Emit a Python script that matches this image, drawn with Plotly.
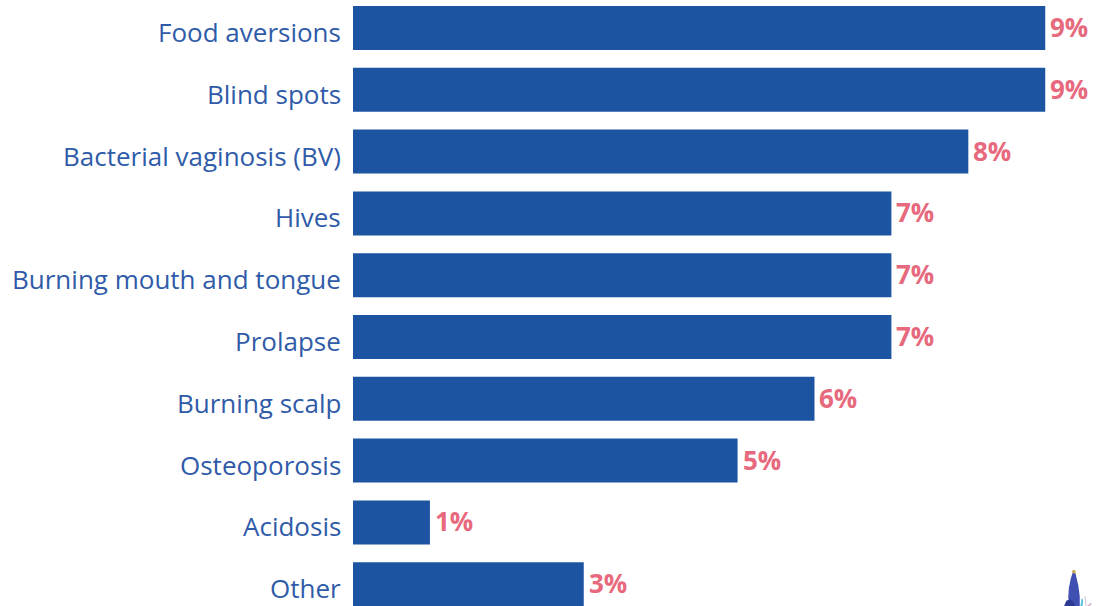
import plotly.graph_objects as go

categories = ["Food aversions", "Blind spots", "Bacterial vaginosis (BV)", "Hives",
              "Burning mouth and tongue", "Prolapse", "Burning scalp", "Osteoporosis",
              "Acidosis", "Other"]
shares = [9, 9, 8, 7, 7, 7, 6, 5, 1, 3]
share_labels = ["9%", "9%", "8%", "7%", "7%", "7%", "6%", "5%", "1%", "3%"]

BAR_BLUE = "#1c54a2"
LABEL_BLUE = "#2f5ba8"
PINK = "#e7697d"
W, H = 1096, 606


def emblem_path(points):
    """Closed path from pixel points, expressed in paper coordinates."""
    coords = [f"{x / W:.4f} {(H - y) / H:.4f}" for x, y in points]
    return "M " + " L ".join(coords) + " Z"


def emblem_part(points, color):
    return dict(type="path", xref="paper", yref="paper", layer="above",
                path=emblem_path(points), fillcolor=color, line_width=0)


fig = go.Figure(go.Bar(
    y=categories, x=shares, orientation="h",
    marker=dict(color=BAR_BLUE, line_width=0),
))

annotations = []
for cat, val, lab in zip(categories, shares, share_labels):
    # category name, right aligned against the bar start
    annotations.append(dict(x=0, y=cat, xref="x", yref="y", text=cat, showarrow=False,
                            xanchor="right", yanchor="middle", xshift=-10, yshift=-4,
                            font=dict(family="Open Sans", size=26, color=LABEL_BLUE)))
    # share value just past the bar end
    annotations.append(dict(x=val, y=cat, xref="x", yref="y", text=lab, showarrow=False,
                            xanchor="left", yanchor="middle", xshift=3, yshift=1,
                            font=dict(family="Open Sans", size=26, color=PINK, weight=700)))

fig.update_layout(
    width=W, height=H, margin=dict(l=353, r=0, t=0, b=0),
    plot_bgcolor="white", paper_bgcolor="white", showlegend=False, bargap=0.288,
    xaxis=dict(range=[0, 9.66], visible=False),
    yaxis=dict(
        type="category", categoryorder="array", categoryarray=categories,
        range=[9.353, -0.453], showgrid=False, showline=False, zeroline=False,
        ticks="", showticklabels=False,
    ),
    annotations=annotations,
    # small butterfly emblem in the lower right corner
    shapes=[
        emblem_part([(1055, 598), (1056, 588), (1059, 578), (1062, 572), (1066, 574),
                     (1070, 586), (1072, 596), (1072, 606), (1060, 606)], "#3f4fb2"),
        emblem_part([(1049, 606), (1052, 601), (1057, 599), (1063, 602), (1065, 606)], "#2d3a94"),
        emblem_part([(1060, 572), (1062, 570), (1065, 570), (1067, 574), (1063, 573)], "#c9a94e"),
        emblem_part([(1073, 606), (1075, 598), (1077, 600), (1076, 606)], "#4cc3dc"),
        emblem_part([(1079, 596), (1080, 596), (1082, 606), (1081, 606)], "#b6a6bd"),
        emblem_part([(1083, 606), (1088, 603), (1090, 604), (1086, 606)], "#d7a6c0"),
    ],
)

fig.write_html("out.html")
